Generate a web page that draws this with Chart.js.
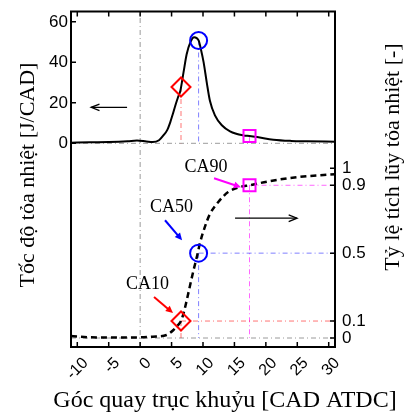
<!DOCTYPE html>
<html>
<head>
<meta charset="utf-8">
<script src="https://cdn.jsdelivr.net/npm/chart.js@4.4.0/dist/chart.umd.min.js"></script>
<style>
  html, body { margin: 0; padding: 0; background: #fff; }
  #wrap { width: 406px; height: 414px; position: relative; }
</style>
</head>
<body>
<div id="wrap"><canvas id="hrrChart"></canvas></div>
<script>
// Crank angle [CAD ATDC] vs heat release rate [J/CAD]
const hrrAngle = [-11, -8, -5, -2, -0.5, 1, 2, 3, 3.7, 4.3, 4.8, 5.2, 5.6, 6.0, 6.4, 6.9, 7.4, 8.0, 8.6, 9.3, 9.7, 10.1, 10.6, 11.1, 11.9, 13.0, 14.3, 16.4, 17.4, 18.6, 21.2, 24, 26.5, 31];
const hrrRate = [0.3, 0.5, 0.6, 1.0, 1.4, 0.9, 0.6, 1.5, 3.9, 6.5, 10.5, 14.5, 18.7, 22.5, 26, 35, 44, 50, 52.4, 50.8, 46, 40, 30, 21, 13.8, 8.9, 5.9, 3.9, 3.6, 3.1, 1.8, 1.2, 1.0, 0.8];

// Crank angle vs cumulative heat release fraction [-]
const fracAngle = [-11, -8, -4, 0, 2, 4.2, 5.3, 6.0, 6.5, 6.9, 7.4, 8.0, 8.5, 9.1, 9.5, 10.3, 11.1, 12.4, 14.0, 15.9, 17.4, 20.7, 25.5, 31];
const fracValue = [0.012, 0.004, 0.003, 0.004, 0.008, 0.018, 0.047, 0.075, 0.1, 0.145, 0.22, 0.32, 0.40, 0.49, 0.557, 0.655, 0.73, 0.80, 0.86, 0.89, 0.90, 0.925, 0.95, 0.965];

// CA10 / CA50 / CA90 points
const caNames = ['CA10', 'CA50', 'CA90'];
const caAngle = [6.5, 9.3, 17.4];
const caFrac = [0.1, 0.5, 0.9];
const caRate = [27.8, 50.8, 3.6];

// Tick labels
const xTicks = [-10, -5, 0, 5, 10, 15, 20, 25, 30];
const rateTicks = [0, 20, 40, 60];
const fracTicks = [0, 0.1, 0.5, 0.9, 1];

// axis ranges (left axis only covers the top part, right axis the bottom part)
const X_MIN = -11, X_MAX = 31;
const RATE_MIN = -100.6, RATE_MAX = 65.1;
const FRAC_MIN = -0.053, FRAC_MAX = 1.924;

const caColors = ['#ff0000', '#0000ff', '#ff00ff'];
const caLineColors = ['rgba(255,0,0,0.55)', 'rgba(0,0,255,0.5)', 'rgba(255,0,255,0.6)'];
const caStyles = ['rectRot', 'circle', 'rect'];
const caRadius = [9.5, 8.5, 8.5];
const grey = 'rgba(120,120,120,0.75)';
const dashDot = [5, 3, 1, 3];

const sans = '"Liberation Sans", Arial, sans-serif';
const serif = '"Liberation Serif", "Times New Roman", serif';

function pts(xs, ys) {
    return xs.map((v, i) => ({ x: v, y: ys[i] }));
}

function refLine(data, axis, color) {
    return {
        data: data,
        yAxisID: axis,
        showLine: true,
        borderColor: color,
        borderWidth: 1,
        borderDash: dashDot,
        pointRadius: 0,
        order: 3
    };
}

const datasets = [];

// markers
caNames.forEach((name, i) => {
    const marker = {
        pointStyle: caStyles[i],
        pointRadius: caRadius[i],
        pointBorderColor: caColors[i],
        pointBorderWidth: 2,
        pointBackgroundColor: 'rgba(0,0,0,0)',
        showLine: false,
        order: 0
    };
    datasets.push(Object.assign({ label: name, data: [{ x: caAngle[i], y: caRate[i] }], yAxisID: 'y' }, marker));
    datasets.push(Object.assign({ label: name, data: [{ x: caAngle[i], y: caFrac[i] }], yAxisID: 'y2' }, marker));
});

// curves
datasets.push({
    label: 'HRR',
    data: pts(hrrAngle, hrrRate),
    yAxisID: 'y',
    showLine: true,
    borderColor: '#000',
    borderWidth: 2,
    pointRadius: 0,
    cubicInterpolationMode: 'monotone',
    order: 1
});
datasets.push({
    label: 'Cumulative',
    data: pts(fracAngle, fracValue),
    yAxisID: 'y2',
    showLine: true,
    borderColor: '#000',
    borderWidth: 2.5,
    borderDash: [6, 4],
    pointRadius: 0,
    cubicInterpolationMode: 'monotone',
    order: 1
});

// dash-dot guide lines
caNames.forEach((name, i) => {
    datasets.push(refLine([{ x: caAngle[i], y: caRate[i] }, { x: caAngle[i], y: 0 }], 'y', caLineColors[i]));
    datasets.push(refLine([{ x: caAngle[i], y: caFrac[i] }, { x: caAngle[i], y: 0 }], 'y2', caLineColors[i]));
    datasets.push(refLine([{ x: caAngle[i], y: caFrac[i] }, { x: X_MAX, y: caFrac[i] }], 'y2', caLineColors[i]));
});
datasets.push(refLine([{ x: 0, y: RATE_MIN }, { x: 0, y: RATE_MAX }], 'y', grey));
datasets.push(refLine([{ x: X_MIN, y: 0 }, { x: X_MAX, y: 0 }], 'y', grey));
datasets.push(refLine([{ x: X_MIN, y: 0 }, { x: X_MAX, y: 0 }], 'y2', grey));

function arrow(ctx, x1, y1, x2, y2, color, width, head, filled) {
    const ang = Math.atan2(y2 - y1, x2 - x1);
    const spread = filled ? 0.45 : 0.38;
    ctx.save();
    ctx.strokeStyle = color;
    ctx.fillStyle = color;
    ctx.lineWidth = width;
    ctx.beginPath();
    ctx.moveTo(x1, y1);
    ctx.lineTo(x2 - Math.cos(ang) * (filled ? head * 0.6 : 0), y2 - Math.sin(ang) * (filled ? head * 0.6 : 0));
    ctx.stroke();
    ctx.beginPath();
    ctx.moveTo(x2 - head * Math.cos(ang - spread), y2 - head * Math.sin(ang - spread));
    ctx.lineTo(x2, y2);
    ctx.lineTo(x2 - head * Math.cos(ang + spread), y2 - head * Math.sin(ang + spread));
    if (filled) {
        ctx.closePath();
        ctx.fill();
    } else {
        ctx.stroke();
    }
    ctx.restore();
}

const decorPlugin = {
    id: 'decor',
    afterDatasetsDraw(chart) {
        const { ctx, chartArea: area, scales } = chart;
        const sx = scales.x, sl = scales.y, sr = scales.y2;
        const X = v => sx.getPixelForValue(v);
        const L = v => sl.getPixelForValue(v);
        const R = v => sr.getPixelForValue(v);
        ctx.save();

        // frame
        ctx.strokeStyle = '#000';
        ctx.lineWidth = 2;
        ctx.strokeRect(area.left, area.top, area.right - area.left, area.bottom - area.top);

        // inward tick marks
        ctx.lineWidth = 1.5;
        ctx.beginPath();
        xTicks.forEach(v => {
            ctx.moveTo(X(v), area.top); ctx.lineTo(X(v), area.top + 5);
            ctx.moveTo(X(v), area.bottom); ctx.lineTo(X(v), area.bottom - 5);
        });
        rateTicks.forEach(v => { ctx.moveTo(area.left, L(v)); ctx.lineTo(area.left + 5, L(v)); });
        fracTicks.forEach(v => { ctx.moveTo(area.right, R(v)); ctx.lineTo(area.right - 5, R(v)); });
        ctx.stroke();

        // rotated x tick labels
        ctx.fillStyle = '#000';
        ctx.font = '16px ' + sans;
        ctx.textAlign = 'right';
        ctx.textBaseline = 'middle';
        xTicks.forEach(v => {
            ctx.save();
            ctx.translate(X(v) + 8.5, area.bottom + 13.5);
            ctx.rotate(-Math.PI / 4);
            ctx.fillText(String(v), 0, 0);
            ctx.restore();
        });

        // axis titles
        ctx.textAlign = 'center';
        ctx.font = '22px ' + serif;
        ctx.save();
        ctx.translate(28, 175);
        ctx.rotate(-Math.PI / 2);
        ctx.fillText('Tốc độ tỏa nhiệt [J/CAD]', 0, 0);
        ctx.restore();
        ctx.save();
        ctx.translate(393, 157);
        ctx.rotate(-Math.PI / 2);
        ctx.fillText('Tỷ lệ tích lũy tỏa nhiệt [-]', 0, 0);
        ctx.restore();
        ctx.font = '24px ' + serif;
        ctx.textBaseline = 'alphabetic';
        ctx.fillText('Góc quay trục khuỷu [CAD ATDC]', 225, 407);

        // CA labels and pointers
        ctx.font = '18px ' + serif;
        ctx.textBaseline = 'middle';
        ctx.fillText('CA10', X(1.18), R(0.318));
        ctx.fillText('CA50', X(5.0), R(0.77));
        ctx.fillText('CA90', X(10.48), R(1.006));
        arrow(ctx, X(2.21), R(0.241), X(5.23), R(0.147), caColors[0], 2, 8, true);
        arrow(ctx, X(3.96), R(0.694), X(6.67), R(0.576), caColors[1], 2, 8, true);
        arrow(ctx, X(11.76), R(0.941), X(16.05), R(0.888), caColors[2], 2, 8, true);

        // axis pointers
        arrow(ctx, X(-2.08), L(17.75), X(-7.8), L(17.75), '#000', 1.3, 9, false);
        arrow(ctx, X(15.1), R(0.706), X(24.96), R(0.706), '#000', 1.3, 9, false);

        ctx.restore();
    }
};

function fixSize(size) {
    return function (scale) {
        if (scale.isHorizontal()) scale.height = size; else scale.width = size;
        scale.paddingTop = 0;
        scale.paddingBottom = 0;
        scale.paddingLeft = 0;
        scale.paddingRight = 0;
    };
}

new Chart(document.getElementById('hrrChart').getContext('2d'), {
    type: 'scatter',
    data: { datasets: datasets },
    plugins: [decorPlugin],
    options: {
        responsive: true,
        maintainAspectRatio: false,
        animation: false,
        layout: { padding: { top: 11, left: 0, right: 0, bottom: 0 } },
        plugins: {
            legend: { display: false },
            tooltip: { enabled: false }
        },
        scales: {
            x: {
                type: 'linear',
                min: X_MIN,
                max: X_MAX,
                afterBuildTicks: s => { s.ticks = xTicks.map(v => ({ value: v })); },
                ticks: { display: false },
                grid: { display: false, drawTicks: false },
                border: { display: false },
                afterFit: fixSize(67)
            },
            y: {
                type: 'linear',
                position: 'left',
                min: RATE_MIN,
                max: RATE_MAX,
                afterBuildTicks: s => { s.ticks = rateTicks.map(v => ({ value: v })); },
                ticks: { autoSkip: false, padding: 3, color: '#000', font: { family: sans, size: 17 }, callback: v => String(v) },
                grid: { display: false, drawTicks: false },
                border: { display: false },
                afterFit: fixSize(71)
            },
            y2: {
                type: 'linear',
                position: 'right',
                min: FRAC_MIN,
                max: FRAC_MAX,
                afterBuildTicks: s => { s.ticks = fracTicks.map(v => ({ value: v })); },
                ticks: { autoSkip: false, padding: 7, color: '#000', font: { family: sans, size: 17 }, callback: v => String(v) },
                grid: { display: false, drawTicks: false },
                border: { display: false },
                afterFit: fixSize(71)
            }
        }
    }
});
</script>
</body>
</html>
